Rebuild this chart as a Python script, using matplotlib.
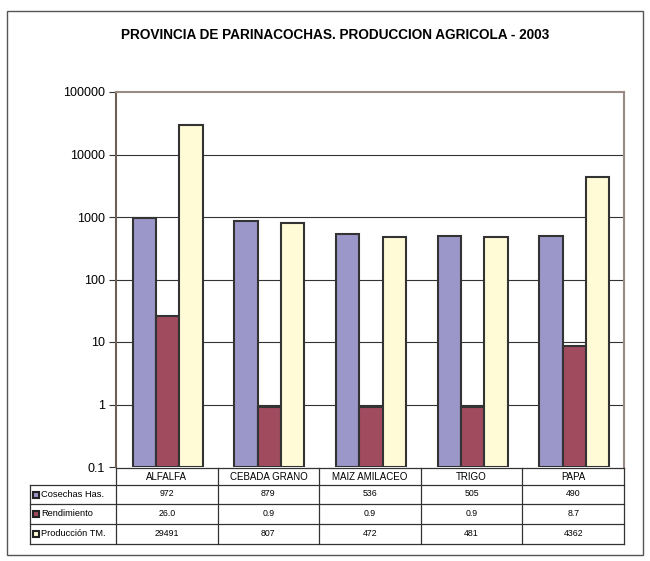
import matplotlib.pyplot as plt
from matplotlib.patches import Rectangle
from matplotlib.lines import Line2D
import numpy as np

plt.rcParams['font.family'] = ['Liberation Sans', 'DejaVu Sans']

cultivos = ["ALFALFA", "CEBADA GRANO", "MAIZ AMILACEO", "TRIGO", "PAPA"]
series = ["Cosechas Has.", "Rendimiento", "Producci\u00f3n TM."]
cosechas = [972, 879, 536, 505, 490]
rendimiento = [26.0, 0.9, 0.9, 0.9, 8.7]
produccion = [29491, 807, 472, 481, 4362]
textos_tabla = [["972", "879", "536", "505", "490"],
                ["26.0", "0.9", "0.9", "0.9", "8.7"],
                ["29491", "807", "472", "481", "4362"]]
colores = ["#9b97c9", "#a14b5f", "#fffbd6"]

W, H = 650, 561
fig = plt.figure(figsize=(W / 100, H / 100), dpi=100)

# marco exterior
fig.patches.append(Rectangle((7 / W, 1 - 555 / H), 636 / W, 544 / H,
                             transform=fig.transFigure, fill=False,
                             edgecolor="#555555", linewidth=1))

ax_l, ax_r, ax_t, ax_b = 116, 624, 92, 467
ax = fig.add_axes([ax_l / W, 1 - ax_b / H, (ax_r - ax_l) / W, (ax_b - ax_t) / H])

fig.text(335 / W, 1 - 35 / H, "PROVINCIA DE PARINACOCHAS. PRODUCCION AGRICOLA - 2003",
         ha="center", va="center", fontsize=9.8, fontweight="bold")

x = np.arange(len(cultivos))
ancho = 0.23
datos = [cosechas, rendimiento, produccion]
for i, (vals, col) in enumerate(zip(datos, colores)):
    ax.bar(x + (i - 1) * ancho + 0.01, np.array(vals) - 0.1, bottom=0.1, width=ancho,
           color=col, edgecolor="#333333", linewidth=1.5, zorder=3)

ax.set_yscale("log")
ax.set_ylim(0.1, 100000)
ax.set_xlim(-0.5, len(cultivos) - 0.5)
ax.set_yticks([0.1, 1, 10, 100, 1000, 10000, 100000])
ax.set_yticklabels(["0.1", "1", "10", "100", "1000", "10000", "100000"])
ax.minorticks_off()
ax.tick_params(axis="y", labelsize=9, length=5, width=0.8, color="#333333", pad=3)
ax.set_xticks([])
for v in [1, 10, 100, 1000, 10000]:
    ax.axhline(v, color="#333333", linewidth=0.8, zorder=1)
for s in ["top", "right", "left"]:
    ax.spines[s].set_color("#9a8a84")
    ax.spines[s].set_linewidth(1.5)
ax.spines["left"].set_color("#6b5f58")
ax.spines["bottom"].set_visible(False)

# tabla de datos
filas = [468, 485, 504, 524, 544]
izq = 30


def fy(p):
    return 1 - p / H


def fx(p):
    return p / W


lc = "#333333"
for yy in filas:
    x0 = ax_l if yy == filas[0] else izq
    fig.add_artist(Line2D([fx(x0), fx(ax_r)], [fy(yy), fy(yy)], color=lc, linewidth=0.9))
fig.add_artist(Line2D([fx(izq), fx(izq)], [fy(filas[1]), fy(filas[-1])], color=lc, linewidth=0.9))
for k in range(len(cultivos) + 1):
    xx = ax_l + k * (ax_r - ax_l) / len(cultivos)
    fig.add_artist(Line2D([fx(xx), fx(xx)], [fy(filas[0]), fy(filas[-1])], color=lc, linewidth=0.9))

ancho_col = (ax_r - ax_l) / len(cultivos)
for j, c in enumerate(cultivos):
    cx = ax_l + (j + 0.5) * ancho_col
    fig.text(fx(cx), fy((filas[0] + filas[1]) / 2), c, ha="center", va="center", fontsize=7)
    for i in range(len(series)):
        fig.text(fx(cx), fy((filas[i + 1] + filas[i + 2]) / 2 - 1), textos_tabla[i][j],
                 ha="center", va="center", fontsize=6.3)

for i, s in enumerate(series):
    cy = (filas[i + 1] + filas[i + 2]) / 2
    fig.patches.append(Rectangle((fx(33), fy(cy + 3)), 6 / W, 6 / H, transform=fig.transFigure,
                                 facecolor=colores[i], edgecolor="#222222", linewidth=1.5))
    fig.text(fx(41), fy(cy), s, ha="left", va="center", fontsize=6.7)

fig.savefig("out.png", dpi=100)
